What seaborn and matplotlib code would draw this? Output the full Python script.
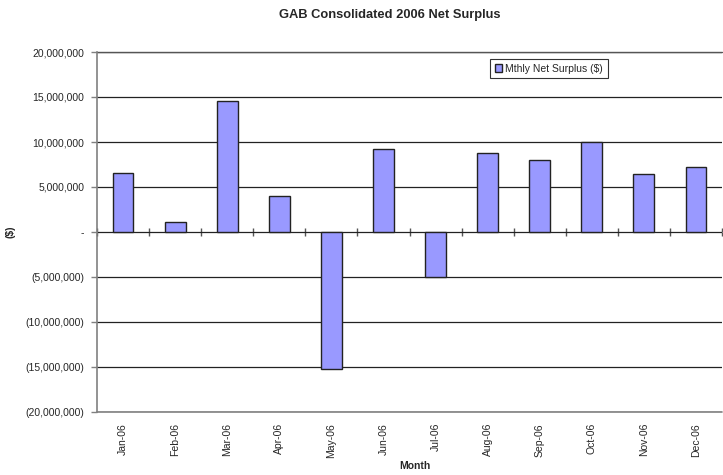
import numpy as np
import pandas as pd
import matplotlib
matplotlib.use('Agg')
import matplotlib.pyplot as plt
import seaborn as sns
from matplotlib.ticker import FuncFormatter

months = ['Jan-06', 'Feb-06', 'Mar-06', 'Apr-06', 'May-06', 'Jun-06',
          'Jul-06', 'Aug-06', 'Sep-06', 'Oct-06', 'Nov-06', 'Dec-06']
surplus = [6550000, 1100000, 14550000, 4000000, -15250000, 9250000,
           -5000000, 8750000, 8000000, 9950000, 6450000, 7200000]
y_ticks = [-20000000, -15000000, -10000000, -5000000, 0,
           5000000, 10000000, 15000000, 20000000]

def fmt_money(v, pos):
	if abs(v) < 1:
		return '-'
	if v < 0:
		return '({:,.0f})'.format(-v)
	return '{:,.0f}'.format(v)

def main():
	sns.set_style('white')
	plt.rcParams['font.family'] = ['Liberation Sans', 'DejaVu Sans']

	df = pd.DataFrame({'Month': months, 'Surplus': surplus})

	fig = plt.figure(figsize=(7.23, 4.75), dpi=100)
	ax = fig.add_axes([97 / 723, 1 - 412 / 475, 625 / 723, 360 / 475])

	sns.barplot(data=df, x='Month', y='Surplus', color='#9999FF', saturation=1,
		edgecolor='#222222', linewidth=1.0, width=0.4, ax=ax,
		label='Mthly Net Surplus ($)', zorder=3)

	ax.set_ylim(-20000000, 20000000)
	ax.set_xlim(-0.5, len(months) - 0.5)
	ax.set_yticks(y_ticks)
	ax.yaxis.set_major_formatter(FuncFormatter(fmt_money))
	ax.grid(axis='y', color='#222222', linewidth=0.9, zorder=0)
	ax.grid(axis='x', visible=False)
	ax.axhline(y_ticks[0], color='#808080', linewidth=1.2, clip_on=False, zorder=2)
	ax.axhline(y_ticks[-1], color='#555555', linewidth=1.0, clip_on=False, zorder=2)

	for name in ['top', 'right', 'bottom']:
		ax.spines[name].set_visible(False)
	ax.spines['left'].set_color('#808080')
	ax.spines['left'].set_linewidth(1.2)

	ax.tick_params(axis='y', which='both', left=True, length=4, width=1,
		color='#808080', labelsize=7.5, pad=5)
	ax.tick_params(axis='x', length=0, labelsize=7.5, pad=8)
	plt.setp(ax.get_xticklabels(), rotation=90)

	# ticks between categories on the zero line
	sec = ax.secondary_xaxis(0.5)
	sec.set_xticks(np.arange(len(months) + 1) - 0.5)
	sec.tick_params(axis='x', direction='out', length=3, width=1, color='#555555',
		labelbottom=False, labeltop=False, bottom=True)
	sec.spines['bottom'].set_visible(False)
	sec.spines['top'].set_visible(False)
	sec.set_xticklabels([])

	ax.set_xlabel('Month', fontsize=7.5, fontweight='bold')
	ax.xaxis.set_label_coords((415 - 97) / 625, -(461 - 412) / 360)
	ax.set_ylabel('($)', fontsize=7.5, fontweight='bold')
	ax.yaxis.set_label_coords(-(97 - 16) / 625, 0.5)
	fig.suptitle('GAB Consolidated 2006 Net Surplus', fontsize=9.3,
		fontweight='bold', x=390 / 723, y=1 - 9 / 475, va='top')

	leg = ax.legend(loc='upper left', bbox_to_anchor=((490 - 97) / 625, (412 - 59) / 360),
		fontsize=7.5, frameon=True, fancybox=False, handlelength=0.7, handleheight=0.7,
		handletextpad=0.3, borderpad=0.45, borderaxespad=0)
	leg.get_frame().set_edgecolor('black')
	leg.get_frame().set_linewidth(0.8)

	fig.savefig('out.png', dpi=100)

if __name__ == '__main__':
	main()
